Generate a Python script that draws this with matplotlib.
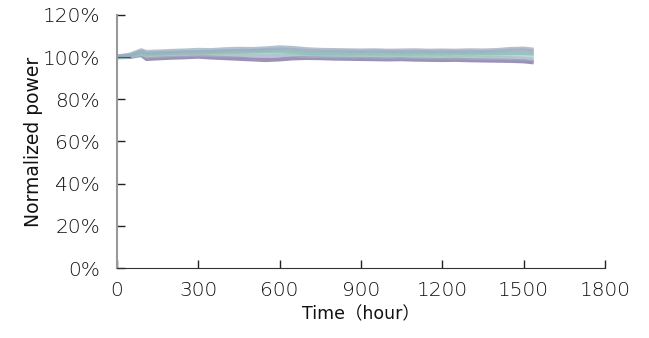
import matplotlib.pyplot as plt
import numpy as np
from matplotlib.ticker import PercentFormatter

plt.rcParams['font.family'] = ['DejaVu Sans', 'Noto Sans CJK JP']
plt.rcParams['font.weight'] = 'light'

# Data (normalized power, % of initial)
hours = [0, 50, 90, 110, 150, 200, 250, 300, 350, 400, 450, 500, 550, 600, 650,
         700, 750, 800, 850, 900, 950, 1000, 1050, 1100, 1150, 1200, 1250,
         1300, 1350, 1400, 1450, 1500, 1530]

s_bluegray = [100.2, 101.2, 103.2, 102.4, 102.6, 102.9, 103.1, 103.4, 103.3, 103.7,
              103.9, 103.8, 104.1, 104.6, 104.3, 103.7, 103.4, 103.3, 103.2, 103.1,
              103.2, 103.0, 103.1, 103.2, 103.0, 103.1, 103.0, 103.2, 103.1, 103.3,
              103.8, 104.0, 103.6]
s_teal = [100.0, 100.6, 102.2, 101.6, 101.8, 102.0, 102.2, 102.3, 102.5, 102.6,
          102.6, 102.8, 102.9, 103.0, 102.6, 101.9, 101.8, 101.8, 101.7, 101.8,
          101.7, 101.8, 101.7, 101.8, 101.8, 101.7, 101.8, 101.7, 101.8, 101.8,
          101.9, 102.0, 101.8]
s_green = [100.0, 100.4, 101.6, 100.9, 101.2, 101.4, 101.5, 101.7, 101.8, 101.9,
           102.0, 102.1, 102.2, 102.3, 102.0, 101.4, 101.3, 101.2, 101.2, 101.1,
           101.2, 101.1, 101.2, 101.1, 101.0, 101.1, 101.0, 101.1, 101.0, 101.1,
           101.2, 101.3, 101.0]
s_pink = [100.1, 100.8, 102.6, 101.2, 101.5, 101.9, 102.1, 102.0, 102.4, 102.7,
          102.9, 103.0, 103.3, 103.6, 103.4, 102.9, 102.7, 102.6, 102.6, 102.5,
          102.6, 102.5, 102.4, 102.5, 102.4, 102.5, 102.4, 102.5, 102.4, 102.6,
          103.0, 103.2, 102.8]
s_purple = [99.9, 100.1, 101.0, 99.1, 99.4, 99.7, 99.9, 100.2, 99.8, 99.5,
            99.2, 98.9, 98.6, 98.9, 99.4, 99.6, 99.5, 99.3, 99.2, 99.1,
            99.0, 98.9, 99.0, 98.8, 98.7, 98.6, 98.7, 98.5, 98.4, 98.3,
            98.2, 98.0, 97.6]
s_lightblue = [100.0, 100.5, 101.4, 100.3, 100.6, 100.9, 101.1, 101.2, 101.0, 100.8,
               100.9, 100.7, 100.5, 100.8, 100.9, 100.6, 100.5, 100.4, 100.3, 100.3,
               100.2, 100.1, 100.2, 100.0, 99.9, 99.9, 99.8, 99.7, 99.6, 99.6,
               99.5, 99.4, 99.0]

series = [s_purple, s_lightblue, s_green, s_pink, s_teal, s_bluegray]
colors = ['#7a6e9e', '#a2adcc', '#a8ccb3', '#c6acc2', '#86c0c0', '#9aaec0']

fig = plt.figure(figsize=(6.49, 3.38), dpi=100)
ax = fig.add_axes([0.180, 0.207, 0.752, 0.749])

for vals, c in zip(series, colors):
    ax.plot(hours, np.array(vals) / 100, color=c, lw=3.0, alpha=0.75,
            solid_joinstyle='round')

# thin dark start trace
ax.plot(hours[:2], [1.0, 1.0], color='#556', lw=0.8)

ax.set_xlim(0, 1800)
ax.set_ylim(0, 1.2)
ax.set_xticks(np.arange(0, 1801, 300))
ax.set_yticks(np.arange(0, 1.21, 0.2))
ax.yaxis.set_major_formatter(PercentFormatter(1.0, decimals=0))

ax.tick_params(direction='in', length=6, width=1, labelsize=14.5,
               color='#222', labelcolor='#111')
ax.tick_params(axis='y', pad=12)
ax.tick_params(axis='x', pad=9)
ax.spines['top'].set_visible(False)
ax.spines['right'].set_visible(False)
ax.spines['left'].set_color('#999999')
ax.spines['left'].set_linewidth(1.5)
ax.spines['bottom'].set_color('#333333')

ax.set_xlabel('Time（hour）', fontsize=12.5, color='#111', labelpad=4)
ax.set_ylabel('Normalized power', fontsize=13.5, color='#111', labelpad=0)

fig.savefig('out.png', dpi=100)
